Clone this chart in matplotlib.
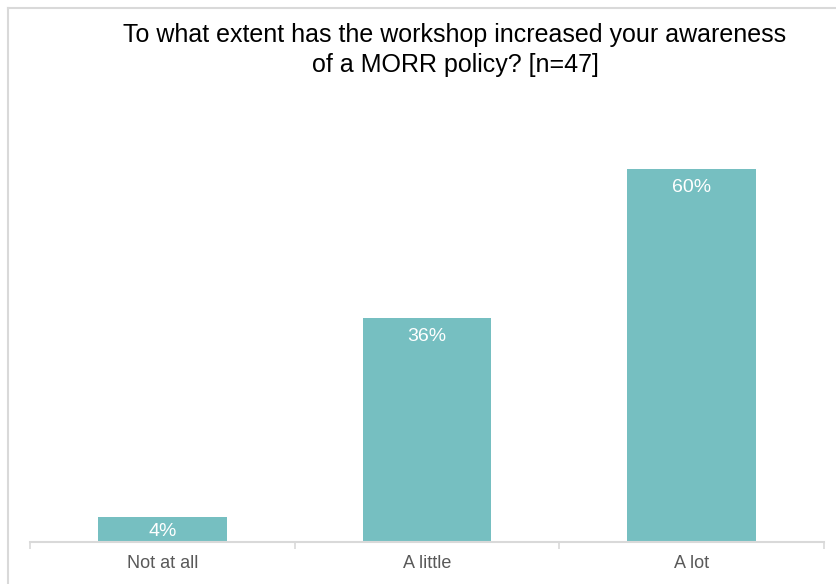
import matplotlib
matplotlib.use('Agg')
import matplotlib.pyplot as plt
from matplotlib.lines import Line2D

categories = ['Not at all', 'A little', 'A lot']
values = [4, 36, 60]
labels = ['4%', '36%', '60%']

plt.rcParams['font.family'] = ['Liberation Sans', 'DejaVu Sans']

W, H = 837, 584
fig = plt.figure(figsize=(W / 100, H / 100), dpi=100)

# axes placed in pixel terms
ax = fig.add_axes([30 / W, 42 / H, 794 / W, 435 / H])
ax.bar(range(len(categories)), values, width=0.487, color='#76BFC1')
ax.set_xlim(-0.5, len(categories) - 0.5)
ax.set_ylim(0, 70)

for i, v in enumerate(values):
    if v < 8:
        # short bar: label sits in the middle of it
        ax.text(i, v / 2 - 0.3, labels[i], ha='center', va='center', color='white', fontsize=14)
    else:
        ax.text(i, v - 1.6, labels[i], ha='center', va='top', color='white', fontsize=14)

ax.set_xticks(range(len(categories)))
ax.set_xticklabels(categories, fontsize=13, color='#595959')
ax.set_xticks([-0.5, 0.5, 1.5, 2.5], minor=True)
ax.tick_params(axis='x', which='major', length=0, pad=9)
ax.tick_params(axis='x', which='minor', length=5, width=1.2, color='#D9D9D9')
ax.set_yticks([])
for s in ['top', 'right', 'left']:
    ax.spines[s].set_visible(False)
ax.spines['bottom'].set_color('#D9D9D9')
ax.spines['bottom'].set_linewidth(1.5)

fig.text(455 / W, 1 - 50 / H, 'To what extent has the workshop increased your awareness\nof a MORR policy? [n=47]',
         ha='center', va='center', fontsize=18, color='black', linespacing=1.3)

# outer frame (only top and left visible in the crop)
fig.add_artist(Line2D([8 / W, 8 / W], [0, 1 - 8 / H], transform=fig.transFigure, color='#D9D9D9', lw=1.5))
fig.add_artist(Line2D([8 / W, 1], [1 - 8 / H, 1 - 8 / H], transform=fig.transFigure, color='#D9D9D9', lw=1.5))

fig.savefig('out.png', dpi=100)
